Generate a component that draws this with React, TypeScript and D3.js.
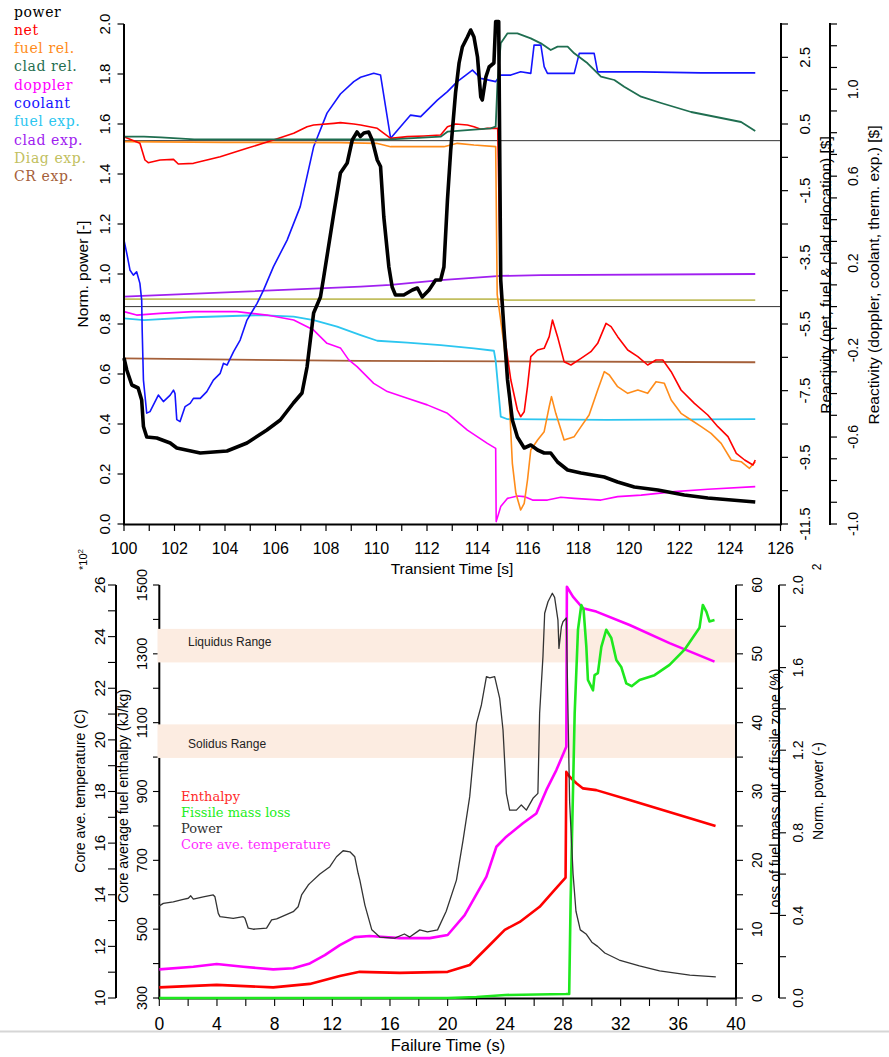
import React from "react";
import * as d3 from "d3";

type Pt = [number, number];

const W = 889;
const H = 1057;
const SANS = "Liberation Sans, Arial, Helvetica, sans-serif";
const SERIF = "DejaVu Serif, serif";

// ---------- upper panel: reactivity transient ----------
const topLegend = ["power", "net", "fuel rel.", "clad rel.", "doppler", "coolant", "fuel exp.", "clad exp.", "Diag exp.", "CR exp."];
const topColors = ["#000000", "#ff0000", "#ff8c1a", "#1f6e50", "#ff00ff", "#1414ff", "#2cc6f0", "#a020f0", "#c2bf60", "#a5603a"];

const powerTop: Pt[] = [
  [100.0, 0.664], [100.11, 0.616], [100.31, 0.556], [100.56, 0.544], [100.7, 0.496], [100.77, 0.39], [100.9, 0.348],
  [101.3, 0.344], [101.83, 0.324], [102.09, 0.304], [103.02, 0.284], [104.08, 0.292], [104.87, 0.324], [105.66, 0.376],
  [106.19, 0.416], [106.71, 0.484], [107.05, 0.524], [107.25, 0.628], [107.51, 0.844], [107.78, 0.908], [107.91, 0.988],
  [108.31, 1.244], [108.57, 1.404], [108.84, 1.444], [109.04, 1.536], [109.23, 1.568], [109.36, 1.55], [109.5, 1.564],
  [109.69, 1.568], [109.83, 1.536], [110.03, 1.456], [110.16, 1.43], [110.29, 1.228], [110.49, 1.028], [110.62, 0.948],
  [110.75, 0.916], [111.08, 0.916], [111.42, 0.936], [111.62, 0.944], [111.81, 0.908], [112.08, 0.936], [112.34, 0.976],
  [112.54, 0.976], [112.67, 1.028], [112.81, 1.296], [112.94, 1.496], [113.13, 1.724], [113.27, 1.844], [113.4, 1.908],
  [113.6, 1.948], [113.73, 1.976], [113.86, 1.948], [114.0, 1.868], [114.13, 1.708], [114.19, 1.696], [114.33, 1.788],
  [114.46, 1.828], [114.65, 1.844], [114.72, 2.01], [114.84, 2.01], [114.92, 0.976], [115.05, 0.776], [115.19, 0.576],
  [115.38, 0.416], [115.58, 0.348], [115.85, 0.304], [116.11, 0.316], [116.38, 0.296], [116.64, 0.284], [116.9, 0.284],
  [117.17, 0.248], [117.57, 0.216], [118.1, 0.204], [119.02, 0.188], [119.55, 0.168], [120.21, 0.148], [121.14, 0.136],
  [122.19, 0.116], [123.12, 0.104], [125.0, 0.088],
];

const netTop: Pt[] = [
  [100, 0.12], [100.31, 0.02], [100.63, -0.08], [100.83, -0.58], [100.96, -0.66], [101.43, -0.58], [101.96, -0.56],
  [102.15, -0.7], [102.75, -0.68], [103.81, -0.48], [104.87, -0.23], [105.92, 0.02], [106.72, 0.22], [107.25, 0.42],
  [107.51, 0.47], [108.31, 0.52], [108.57, 0.54], [109.1, 0.5], [109.37, 0.47], [110.03, 0.37], [110.56, 0.07],
  [111.22, 0.12], [111.88, 0.14], [112.54, 0.17], [112.81, 0.42], [113.13, 0.5], [113.6, 0.47], [113.86, 0.42],
  [114.13, 0.34], [114.39, 0.37], [114.8, 0.37], [114.92, -4.62], [115.12, -6.12], [115.32, -7.18], [115.58, -8.08],
  [115.71, -8.28], [115.85, -8.13], [115.98, -7.38], [116.11, -6.48], [116.38, -6.28], [116.64, -6.23], [116.84, -5.88],
  [116.97, -5.38], [117.17, -5.88], [117.43, -6.63], [117.7, -6.73], [118.1, -6.53], [118.49, -6.33], [118.76, -6.08],
  [119.09, -5.48], [119.29, -5.58], [119.55, -5.88], [119.95, -6.28], [120.35, -6.48], [120.74, -6.73], [121.07, -6.58],
  [121.34, -6.58], [121.67, -6.93], [122.06, -7.48], [122.59, -7.88], [123.12, -8.23], [123.52, -8.58], [123.92, -8.88],
  [124.25, -9.38], [124.58, -9.58], [124.91, -9.73], [125.0, -9.58],
];

const fuelRelTop: Pt[] = [
  [100, -0.03], [104, -0.05], [108.57, -0.06], [110.0, -0.08], [110.56, -0.18], [111.88, -0.18], [112.67, -0.18],
  [113.2, -0.08], [113.86, -0.13], [114.72, -0.18], [114.78, -4.62], [115.05, -6.12], [115.25, -7.68], [115.38, -9.68],
  [115.52, -10.58], [115.71, -11.08], [115.85, -10.88], [115.98, -10.18], [116.11, -9.28], [116.38, -8.98],
  [116.64, -8.73], [116.84, -7.98], [116.93, -7.68], [117.1, -8.18], [117.43, -8.98], [117.83, -8.88], [118.1, -8.58],
  [118.42, -8.23], [118.76, -7.48], [119.02, -6.93], [119.22, -7.03], [119.55, -7.38], [119.95, -7.58], [120.35, -7.48],
  [120.74, -7.58], [121.07, -7.23], [121.4, -7.28], [121.67, -7.78], [122.06, -8.18], [122.46, -8.38], [122.86, -8.58],
  [123.25, -8.78], [123.65, -9.08], [124.05, -9.58], [124.44, -9.63], [124.77, -9.83], [125.0, -9.63],
];

const cladRelTop: Pt[] = [
  [100, 0.12], [100.79, 0.12], [101.46, 0.1], [102.78, 0.04], [110.56, 0.04], [112.54, 0.12], [112.81, 0.27],
  [114.52, 0.37], [114.72, 0.42], [114.79, 1.72], [114.92, 2.92], [115.19, 3.22], [115.58, 3.22], [116.11, 3.07],
  [116.51, 2.92], [116.9, 2.72], [117.17, 2.82], [117.57, 2.82], [117.83, 2.62], [118.36, 2.32], [118.89, 1.92],
  [119.42, 1.82], [119.81, 1.62], [120.48, 1.32], [121.27, 1.13], [122.46, 0.86], [123.65, 0.68], [124.44, 0.56],
  [125.0, 0.29],
];

const dopplerTop: Pt[] = [
  [100, -0.023], [100.5, -0.039], [101.43, -0.031], [102.75, -0.023], [104.47, -0.023], [105.66, -0.039],
  [106.72, -0.062], [107.51, -0.108], [108.04, -0.169], [108.57, -0.19], [108.9, -0.245], [109.23, -0.276],
  [109.89, -0.353], [110.43, -0.391], [111.22, -0.422], [112.01, -0.452], [112.81, -0.491], [113.6, -0.568],
  [114.39, -0.629], [114.72, -0.652], [114.74, -0.989], [114.92, -0.92], [115.19, -0.882], [115.58, -0.871],
  [115.85, -0.874], [116.18, -0.89], [116.77, -0.89], [117.3, -0.877], [117.83, -0.882], [118.89, -0.89],
  [119.55, -0.874], [120.48, -0.867], [121.8, -0.851], [123.12, -0.84], [125.0, -0.828],
];

const coolantTop: Pt[] = [
  [100.0, 0.306], [100.11, 0.245], [100.24, 0.167], [100.37, 0.145], [100.5, 0.16], [100.63, 0.107], [100.7, 0.03],
  [100.72, -0.108], [100.77, -0.338], [100.9, -0.49], [101.03, -0.483], [101.36, -0.407], [101.56, -0.437],
  [101.83, -0.407], [101.96, -0.384], [102.02, -0.4], [102.09, -0.52], [102.22, -0.529], [102.42, -0.46],
  [102.62, -0.445], [102.75, -0.422], [103.02, -0.422], [103.28, -0.391], [103.54, -0.338], [103.81, -0.307],
  [103.94, -0.261], [104.08, -0.269], [104.34, -0.207], [104.6, -0.154], [104.87, -0.062], [105.27, 0.015],
  [105.53, 0.077], [105.92, 0.184], [106.46, 0.306], [106.98, 0.46], [107.51, 0.735], [108.04, 0.89], [108.57, 0.978],
  [109.1, 1.035], [109.37, 1.055], [109.89, 1.073], [110.16, 1.065], [110.56, 0.774], [110.95, 0.827], [111.35, 0.881],
  [111.75, 0.874], [112.01, 0.904], [112.41, 0.95], [112.81, 0.989], [113.2, 1.035], [113.8, 1.088], [114.13, 1.05],
  [114.72, 1.035], [114.92, 1.065], [115.32, 1.065], [115.71, 1.08], [116.11, 1.073], [116.24, 1.203], [116.51, 1.203],
  [116.64, 1.104], [116.77, 1.073], [117.83, 1.073], [118.03, 1.165], [118.62, 1.165], [118.76, 1.08], [120.48, 1.08],
  [122.86, 1.075], [125.0, 1.075],
];

const fuelExpTop: Pt[] = [
  [100, -0.054], [100.79, -0.062], [102.75, -0.049], [105.4, -0.039], [106.72, -0.046], [107.51, -0.062],
  [108.44, -0.092], [109.37, -0.131], [110.03, -0.157], [111.22, -0.166], [112.54, -0.177], [113.86, -0.192],
  [114.65, -0.203], [114.72, -0.25], [114.79, -0.338], [114.92, -0.506], [115.19, -0.518], [119.13, -0.521],
  [125.0, -0.518],
];

const cladExpTop: Pt[] = [
  [100, 0.046], [109.37, 0.092], [110.56, 0.1], [112.54, 0.122], [114.92, 0.141], [116.51, 0.145], [125, 0.15],
];

const diagExpTop: Pt[] = [[100, 0.034], [114.8, 0.034], [115.2, 0.03], [125, 0.03]];
const crExpTop: Pt[] = [[100, -0.238], [109.37, -0.25], [125, -0.256]];

const topXTicks = d3.range(100, 127, 1);
const topXLabels = d3.range(100, 127, 2);
const powerTicks = d3.range(0, 11).map((i) => i * 0.2);
const rhoNetTicks = d3.range(-11.5, 3.6, 1);
const rhoNetLabels = [2.5, 0.5, -1.5, -3.5, -5.5, -7.5, -9.5, -11.5];
const rhoFbTicks = d3.range(-10, 14).map((i) => i / 10);
const rhoFbLabels = [1.0, 0.6, 0.2, -0.2, -0.6, -1.0];

// ---------- lower panel: failure phase ----------
const bottomLegend = ["Enthalpy", "Fissile mass loss", "Power", "Core ave. temperature"];
const bottomLegendColors = ["#ff2a2a", "#22ee22", "#333333", "#ff2aff"];

const powerBot: Pt[] = [
  [0, 0.446], [0.28, 0.458], [0.97, 0.466], [1.66, 0.478], [2.01, 0.483], [2.18, 0.495], [2.36, 0.479], [3.05, 0.49],
  [3.74, 0.499], [3.86, 0.49], [4.09, 0.41], [4.21, 0.394], [5.13, 0.386], [5.82, 0.394], [5.94, 0.386], [6.17, 0.338],
  [6.51, 0.333], [7.44, 0.338], [7.79, 0.378], [8.14, 0.383], [9.29, 0.418], [9.63, 0.442], [9.87, 0.499],
  [10.33, 0.547], [10.44, 0.555], [11.14, 0.6], [11.83, 0.636], [12.29, 0.684], [12.75, 0.713], [13.22, 0.708],
  [13.56, 0.684], [13.79, 0.604], [13.91, 0.571], [14.26, 0.45], [14.74, 0.33], [15.29, 0.295], [16.33, 0.29],
  [17.0, 0.31], [17.37, 0.295], [18.07, 0.33], [18.6, 0.32], [19.3, 0.33], [19.9, 0.42], [20.61, 0.571],
  [21.07, 0.765], [21.53, 0.975], [22.0, 1.33], [22.34, 1.419], [22.69, 1.556], [22.92, 1.55], [23.26, 1.556],
  [23.61, 1.451], [23.84, 1.298], [24.07, 0.991], [24.3, 0.91], [24.77, 0.91], [25.11, 0.935], [25.46, 0.91],
  [25.92, 0.967], [26.26, 0.991], [26.38, 1.379], [26.61, 1.653], [26.73, 1.863], [26.96, 1.919], [27.26, 1.96],
  [27.42, 1.94], [27.65, 1.83], [27.72, 1.693], [27.89, 1.798], [28.0, 1.822], [28.23, 1.84], [28.46, 0.95],
  [28.7, 0.6], [28.9, 0.42], [29.2, 0.33], [29.6, 0.31], [30.0, 0.27], [30.4, 0.25], [30.9, 0.218], [31.9, 0.184],
  [33.3, 0.155], [34.7, 0.131], [36.8, 0.111], [38.6, 0.102],
];

const tempBot: Pt[] = [
  [0, 11.11], [2.36, 11.21], [3.98, 11.32], [5.82, 11.21], [7.9, 11.11], [9.29, 11.15], [10.44, 11.34], [11.48, 11.66],
  [12.52, 12.05], [13.56, 12.36], [14.6, 12.4], [16.68, 12.32], [18.76, 12.32], [20.0, 12.44], [21.18, 13.21],
  [22.69, 14.7], [23.38, 15.86], [24.07, 16.25], [25.22, 16.77], [26.15, 17.15], [26.85, 18.06], [27.54, 18.83],
  [28.23, 19.73], [28.27, 25.93], [28.69, 25.55], [29.38, 25.1], [30.31, 24.97], [32.62, 24.45], [35.39, 23.75],
  [38.51, 23.03],
];

const enthBot: Pt[] = [
  [0, 331], [3.98, 338], [7.9, 331], [10.44, 341], [12.52, 364], [13.9, 376], [16.68, 373], [20.0, 376], [21.53, 396],
  [22.92, 454], [23.96, 498], [25.0, 521], [26.38, 565], [27.42, 614], [28.18, 650], [28.23, 957], [28.46, 943],
  [28.93, 924], [29.39, 909], [30.31, 904], [32.62, 875], [38.58, 800],
];

const massBot: Pt[] = [
  [0, 0], [20, 0], [22, 0.15], [24, 0.44], [28.2, 0.58], [28.43, 0.6], [28.53, 14.2], [28.81, 41.3], [29.04, 53.5],
  [29.27, 57.1], [29.43, 56.4], [29.62, 51.0], [29.73, 46.2], [29.97, 45.2], [30.08, 44.7], [30.19, 46.9],
  [30.42, 47.2], [30.66, 51.0], [31.0, 53.5], [31.35, 52.3], [31.7, 49.1], [32.04, 48.1], [32.39, 45.7],
  [32.76, 45.3], [33.31, 46.2], [34.35, 46.9], [35.39, 48.4], [36.43, 50.6], [37.47, 53.8], [37.7, 57.1],
  [37.95, 56.1], [38.16, 54.7], [38.51, 54.9],
];

// melting ranges, core temperature in 100 C
const solidusBand = [19.3, 20.6];
const liquidusBand = [23.0, 24.3];

const botXTicks = d3.range(0, 41, 2);
const botXLabels = d3.range(0, 41, 4);
const tempTicks = d3.range(10, 27, 1);
const tempLabels = d3.range(10, 27, 2);
const enthTicks = d3.range(300, 1501, 100);
const enthLabels = d3.range(300, 1501, 200);
const massTicks = d3.range(0, 61, 5);
const massLabels = d3.range(0, 61, 10);
const npTicks = d3.range(0, 11).map((i) => i * 0.2);
const npLabels = [0, 0.4, 0.8, 1.2, 1.6, 2.0];

function VText(props: { x: number; y: number; size: number; text: string; anchor?: string; fill?: string; family?: string }) {
  const { x, y, size, text, anchor = "middle", fill = "#000", family = SANS } = props;
  return (
    <text transform={`translate(${x},${y}) rotate(-90)`} textAnchor={anchor} fontSize={size} fill={fill} fontFamily={family}>
      {text}
    </text>
  );
}

const fmt = (v: number, d: number) => (Math.abs(v) < 1e-9 ? (0).toFixed(d) : v.toFixed(d));

export default function App() {
  // upper panel scales
  const xT = d3.scaleLinear().domain([100, 126]).range([124, 780.5]);
  const yP = d3.scaleLinear().domain([0, 2]).range([524, 24]);
  const yA = d3.scaleLinear().domain([-11.5, 3.5]).range([524, 24]);
  const yB = d3.scaleLinear().domain([-1.0, 1.3]).range([524, 24]);

  // lower panel scales
  const xB = d3.scaleLinear().domain([0, 40]).range([159.3, 736]);
  const yTemp = d3.scaleLinear().domain([10, 26]).range([998, 585]);
  const yEnth = d3.scaleLinear().domain([300, 1500]).range([998, 585]);
  const yMass = d3.scaleLinear().domain([0, 60]).range([998, 585]);
  const yNP = d3.scaleLinear().domain([0, 2]).range([998, 585]);

  const lineT = (ys: d3.ScaleLinear<number, number>) =>
    d3.line<Pt>().x((d) => xT(d[0])).y((d) => ys(d[1]));
  const lineB = (ys: d3.ScaleLinear<number, number>) =>
    d3.line<Pt>().x((d) => xB(d[0])).y((d) => ys(d[1]));

  const topSeries: { data: Pt[]; scale: d3.ScaleLinear<number, number>; color: string; width: number }[] = [
    { data: crExpTop, scale: yB, color: topColors[9], width: 1.8 },
    { data: diagExpTop, scale: yB, color: topColors[8], width: 1.8 },
    { data: cladExpTop, scale: yB, color: topColors[7], width: 1.8 },
    { data: fuelExpTop, scale: yB, color: topColors[6], width: 1.8 },
    { data: dopplerTop, scale: yB, color: topColors[4], width: 1.6 },
    { data: coolantTop, scale: yB, color: topColors[5], width: 1.6 },
    { data: fuelRelTop, scale: yA, color: topColors[2], width: 1.6 },
    { data: netTop, scale: yA, color: topColors[1], width: 1.6 },
    { data: cladRelTop, scale: yA, color: topColors[3], width: 1.8 },
    { data: powerTop, scale: yP, color: topColors[0], width: 3.6 },
  ];

  const bandX0 = 157.5;
  const bandX1 = 735;

  return (
    <svg width={W} height={H} style={{ position: "absolute", left: 0, top: 0, background: "#fff" }} fontFamily={SANS}>
      <rect x={0} y={0} width={W} height={H} fill="#fff" />

      {/* ===== upper panel ===== */}
      {topLegend.map((name, i) => (
        <text key={name} x={14} y={16.5 + i * 18.3} fontSize={14} fontFamily={SERIF} letterSpacing={0.6} fill={topColors[i]}>
          {name}
        </text>
      ))}

      {/* zero-reactivity reference lines */}
      <line x1={124} x2={781} y1={yA(0)} y2={yA(0)} stroke="#333" strokeWidth={1} />
      <line x1={124} x2={781} y1={yB(0)} y2={yB(0)} stroke="#333" strokeWidth={1} />

      {topSeries.map((s, i) => (
        <path key={i} d={lineT(s.scale)(s.data) || ""} fill="none" stroke={s.color} strokeWidth={s.width} strokeLinejoin="round" />
      ))}

      {/* left axis: normalised power */}
      <line x1={124} x2={124} y1={24} y2={525} stroke="#000" strokeWidth={2} />
      {powerTicks.map((v) => (
        <g key={v}>
          <line x1={117.5} x2={124} y1={yP(v)} y2={yP(v)} stroke="#000" strokeWidth={1.2} />
          <VText x={109.5} y={yP(v)} size={15} text={fmt(v, 1)} />
        </g>
      ))}
      <VText x={88} y={274} size={15.5} text="Norm. power [-]" />

      {/* bottom axis: transient time */}
      <line x1={123} x2={781.5} y1={524.5} y2={524.5} stroke="#000" strokeWidth={2} />
      {topXTicks.map((t) => (
        <line key={t} x1={xT(t)} x2={xT(t)} y1={524} y2={531} stroke="#000" strokeWidth={1.2} />
      ))}
      {topXLabels.map((t) => (
        <text key={t} x={xT(t)} y={554} fontSize={16} textAnchor="middle">
          {t}
        </text>
      ))}
      <text x={452} y={574} fontSize={15.5} textAnchor="middle">
        Transient Time [s]
      </text>

      {/* right axis 1: net / relocation reactivity */}
      <line x1={781} x2={781} y1={23} y2={525} stroke="#000" strokeWidth={2} />
      {rhoNetTicks.map((v) => (
        <line key={v} x1={781} x2={788} y1={yA(v)} y2={yA(v)} stroke="#000" strokeWidth={1.2} />
      ))}
      {rhoNetLabels.map((v) => (
        <VText key={v} x={810} y={yA(v)} size={15} text={fmt(v, 1)} />
      ))}
      <VText x={831} y={275} size={15.5} text="Reactivity (net, fuel & clad relocation) [$]" />

      {/* right axis 2: feedback reactivity */}
      <line x1={830} x2={830} y1={23} y2={525} stroke="#000" strokeWidth={2} />
      {rhoFbTicks.map((v) => (
        <line key={v} x1={830} x2={837} y1={yB(v)} y2={yB(v)} stroke="#000" strokeWidth={1.2} />
      ))}
      {rhoFbLabels.map((v) => (
        <VText key={v} x={858} y={yB(v)} size={14} text={fmt(v, 1)} />
      ))}
      <VText x={879} y={275} size={15.5} text="Reactivity (doppler, coolant, therm. exp.) [$]" />

      {/* ===== lower panel ===== */}
      {/* left axis: core temperature */}
      <line x1={116} x2={116} y1={585} y2={998} stroke="#000" strokeWidth={2} />
      {tempTicks.map((v) => (
        <line key={v} x1={108} x2={116} y1={yTemp(v)} y2={yTemp(v)} stroke="#000" strokeWidth={1.1} />
      ))}
      {tempLabels.map((v) => (
        <VText key={v} x={105} y={yTemp(v)} size={15} text={String(v)} />
      ))}
      <text transform="translate(87,570) rotate(-90)" fontSize={11} textAnchor="start">
        *10
        <tspan dy={-4} fontSize={8}>
          2
        </tspan>
      </text>
      <VText x={84.5} y={791} size={14} text="Core ave. temperature (C)" />

      {/* left axis 2: fuel enthalpy */}
      <line x1={159.3} x2={159.3} y1={585} y2={999} stroke="#000" strokeWidth={2} />
      {enthTicks.map((v) => (
        <line key={v} x1={153} x2={159.3} y1={yEnth(v)} y2={yEnth(v)} stroke="#000" strokeWidth={1.1} />
      ))}
      {enthLabels.map((v) => (
        <VText key={v} x={147} y={yEnth(v)} size={14.5} text={String(v)} />
      ))}
      <VText x={127.5} y={796} size={14} text="Core average fuel enthalpy  (kJ/kg)" />

      {/* bottom axis: failure time */}
      <line x1={158.3} x2={737} y1={998.5} y2={998.5} stroke="#000" strokeWidth={2} />
      {botXTicks.map((t) => (
        <line key={t} x1={xB(t)} x2={xB(t)} y1={998} y2={1006} stroke="#000" strokeWidth={1.1} />
      ))}
      {botXLabels.map((t) => (
        <text key={t} x={xB(t)} y={1030} fontSize={17.5} textAnchor="middle">
          {t}
        </text>
      ))}
      <rect x={0} y={1030.5} width={W} height={2} fill="#d6d6d6" />
      <text x={448} y={1051} fontSize={16.5} textAnchor="middle">
        Failure Time (s)
      </text>

      {/* right axis: fissile mass loss */}
      <line x1={736} x2={736} y1={585} y2={999} stroke="#000" strokeWidth={2} />
      {massTicks.map((v) => (
        <line key={v} x1={736} x2={743} y1={yMass(v)} y2={yMass(v)} stroke="#000" strokeWidth={1.1} />
      ))}
      {massLabels.map((v) => (
        <VText key={v} x={762} y={yMass(v)} size={14} text={String(v)} />
      ))}
      <VText x={779.5} y={792} size={14} text="Loss of fuel mass out of fissile zone (%)" />

      {/* right axis 2: normalised power */}
      <line x1={779} x2={779} y1={585} y2={998} stroke="#000" strokeWidth={2} />
      {npTicks.map((v) => (
        <line key={v} x1={779} x2={786} y1={yNP(v)} y2={yNP(v)} stroke="#000" strokeWidth={1.1} />
      ))}
      {npLabels.map((v) => (
        <VText key={v} x={803} y={yNP(v)} size={14} text={fmt(v, 1)} />
      ))}
      <VText x={823} y={791} size={14} text="Norm. power (-)" />
      <VText x={821} y={567} size={12} text="2" />

      {/* solidus / liquidus ranges */}
      {[liquidusBand, solidusBand].map((b, i) => (
        <rect key={i} x={bandX0} width={bandX1 - bandX0} y={yTemp(b[1])} height={yTemp(b[0]) - yTemp(b[1])} fill="#fcece1" />
      ))}
      <text x={188} y={646} fontSize={12} fill="#222">
        Liquidus Range
      </text>
      <text x={188} y={748} fontSize={12} fill="#222">
        Solidus Range
      </text>

      {/* legend */}
      {bottomLegend.map((name, i) => (
        <text key={name} x={181} y={800.5 + i * 16} fontSize={13} fontFamily={SERIF} fill={bottomLegendColors[i]}>
          {name}
        </text>
      ))}

      {/* curves */}
      <path d={lineB(yTemp)(tempBot) || ""} fill="none" stroke="#ff00ff" strokeWidth={2.6} strokeLinejoin="round" />
      <path d={lineB(yEnth)(enthBot) || ""} fill="none" stroke="#ff0000" strokeWidth={2.6} strokeLinejoin="round" />
      <path d={lineB(yMass)(massBot) || ""} fill="none" stroke="#1ee81e" strokeWidth={2.6} strokeLinejoin="round" />
      <path d={lineB(yNP)(powerBot) || ""} fill="none" stroke="#333" strokeWidth={1.3} strokeLinejoin="round" />
    </svg>
  );
}
